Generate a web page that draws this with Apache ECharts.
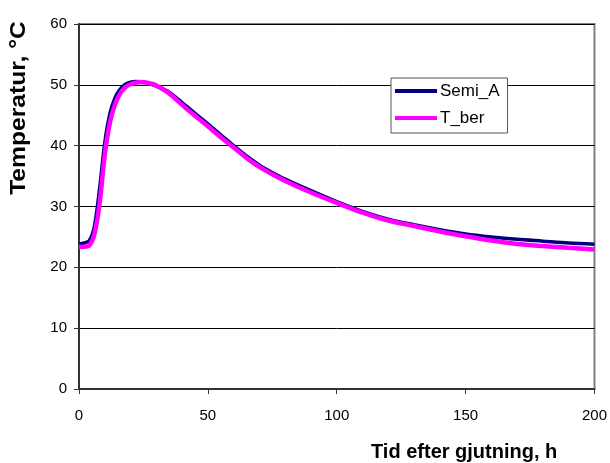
<!DOCTYPE html>
<html>
<head>
<meta charset="utf-8">
<script src="https://cdn.jsdelivr.net/npm/echarts@6/dist/echarts.min.js"></script>
<style>
  html, body { margin: 0; padding: 0; background: #fff; }
  #chart { width: 610px; height: 463px; }
</style>
</head>
<body>
<div id="chart"></div>
<script>
// Time after casting (h)
var hours = [0, 2, 4, 6, 8, 10, 12, 14, 16, 18, 20, 22, 24, 26, 28, 30, 35, 40, 45, 50, 55, 60, 65, 70, 75, 80, 90, 100, 110, 120, 130, 140, 150, 160, 170, 180, 190, 200];
// Measured temperature (°C)
var semiA = [23.8, 24.0, 24.4, 26.8, 33.0, 40.5, 45.3, 47.9, 49.3, 50.1, 50.45, 50.55, 50.5, 50.35, 50.1, 49.8, 48.8, 47.1, 45.3, 43.6, 41.8, 40.0, 38.3, 36.8, 35.6, 34.5, 32.6, 30.8, 29.2, 27.9, 27.0, 26.2, 25.5, 25.0, 24.6, 24.3, 24.0, 23.8];
// Calculated temperature (°C)
var tBer = [23.4, 23.4, 23.6, 25.5, 30.5, 38.5, 43.8, 46.8, 48.6, 49.6, 50.1, 50.35, 50.45, 50.4, 50.2, 49.9, 48.6, 46.7, 44.9, 43.2, 41.4, 39.7, 38.0, 36.5, 35.3, 34.2, 32.3, 30.6, 29.0, 27.7, 26.8, 25.9, 25.1, 24.4, 23.85, 23.5, 23.2, 22.95];

var xTicks = [0, 50, 100, 150, 200];
var yTicks = [0, 10, 20, 30, 40, 50, 60];

function pairs(xs, ys) {
  return xs.map(function (x, i) { return [x, ys[i]]; });
}

var FONT = '"Liberation Sans", Arial, sans-serif';
var chart = echarts.init(document.getElementById('chart'), null, { renderer: 'canvas' });

chart.setOption({
  animation: false,
  backgroundColor: '#ffffff',
  grid: {
    left: 79, right: 15, top: 24, bottom: 74,
    show: true, borderColor: '#808080', borderWidth: 2, backgroundColor: 'transparent'
  },
  xAxis: {
    type: 'value',
    min: xTicks[0], max: xTicks[xTicks.length - 1], interval: 50,
    axisLine: { show: true, onZero: false, lineStyle: { color: '#333333', width: 2 } },
    axisTick: { show: true, inside: false, length: 5, lineStyle: { color: '#333333', width: 1 } },
    axisLabel: { color: '#000', fontFamily: FONT, fontSize: 15, margin: 19 },
    splitLine: { show: false }
  },
  yAxis: {
    type: 'value',
    min: yTicks[0], max: yTicks[yTicks.length - 1], interval: 10,
    axisLine: { show: true, lineStyle: { color: '#333333', width: 2 } },
    axisTick: { show: true, inside: false, length: 5, lineStyle: { color: '#333333', width: 1 } },
    axisLabel: { color: '#000', fontFamily: FONT, fontSize: 15, margin: 12 },
    splitLine: { show: true, lineStyle: { color: '#000000', width: 1 } }
  },
  legend: {
    orient: 'vertical',
    left: 391, top: 78,
    padding: [3, 8, 5, 4],
    itemGap: 7,
    itemWidth: 42, itemHeight: 4,
    icon: 'rect',
    borderColor: '#555555', borderWidth: 1,
    backgroundColor: '#ffffff',
    textStyle: { color: '#000', fontFamily: FONT, fontSize: 17, lineHeight: 20, padding: [0, 0, 0, -2] },
    data: ['Semi_A', 'T_ber']
  },
  graphic: [
    {
      type: 'text',
      x: 19, y: 108, rotation: Math.PI / 2, scaleX: 1.12,
      style: {
        text: 'Temperatur, °C',
        fill: '#000', font: 'bold 22px ' + FONT,
        align: 'center', verticalAlign: 'middle'
      }
    },
    {
      type: 'text',
      x: 371, y: 452,
      style: {
        text: 'Tid efter gjutning, h',
        fill: '#000', font: 'bold 20px ' + FONT,
        align: 'left', verticalAlign: 'middle'
      }
    }
  ],
  series: [
    {
      name: 'Semi_A', type: 'line',
      data: pairs(hours, semiA),
      showSymbol: false, smooth: 0.3,
      lineStyle: { color: '#000080', width: 3.5 },
      itemStyle: { color: '#000080' },
      z: 3
    },
    {
      name: 'T_ber', type: 'line',
      data: pairs(hours, tBer),
      showSymbol: false, smooth: 0.3,
      lineStyle: { color: '#ff00ff', width: 4.5 },
      itemStyle: { color: '#ff00ff' },
      z: 4
    }
  ]
});
</script>
</body>
</html>
